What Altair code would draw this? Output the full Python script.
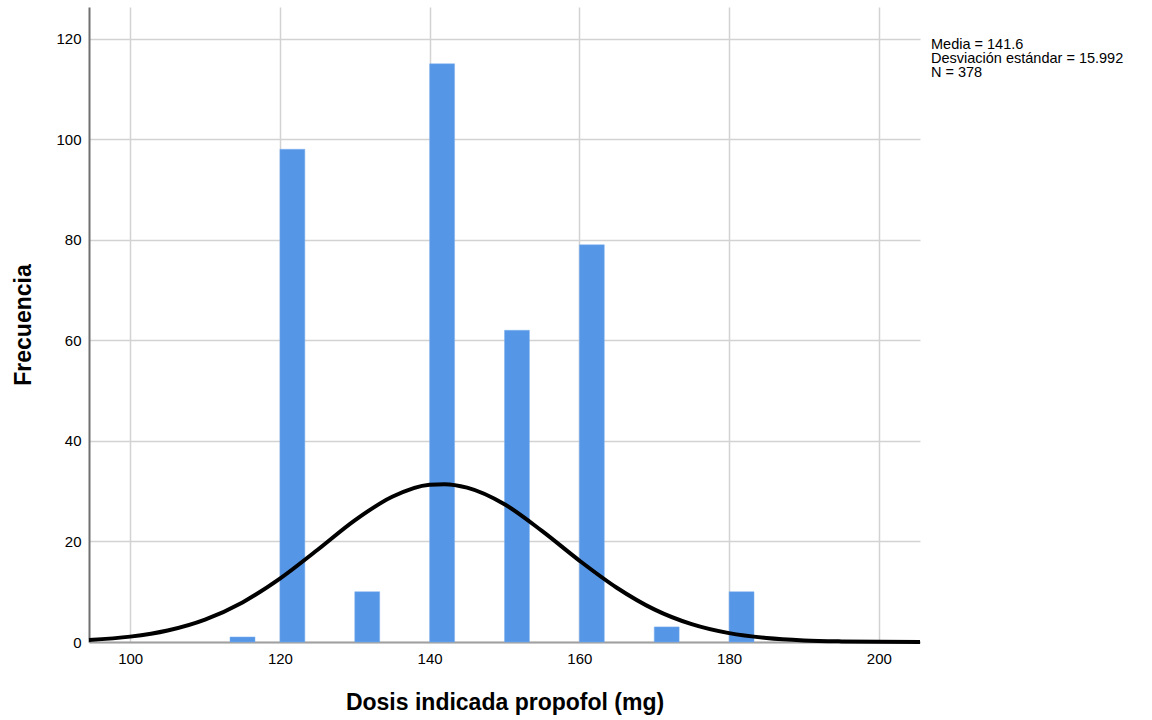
import altair as alt
import pandas as pd

# Histogram bins (start, end) and frequencies
bin_start = [113.33, 120.0, 130.0, 140.0, 150.0, 160.0, 170.0, 180.0]
bin_end = [116.67, 123.33, 133.33, 143.33, 153.33, 163.33, 173.33, 183.33]
freq = [1, 98, 10, 115, 62, 79, 3, 10]

# Normal curve
curve_x = [94.5, 100, 105, 110, 115, 120, 125, 130, 135, 140, 142, 145, 150, 155,
           160, 165, 170, 175, 180, 185, 190, 195, 200, 205.5]
curve_y = [0.42, 1.07, 2.29, 4.46, 7.88, 12.6, 18.3, 24.2, 28.9, 31.3, 31.4, 30.7,
           27.4, 22.1, 16.2, 10.8, 6.49, 3.55, 1.76, 0.79, 0.32, 0.12, 0.04, 0.01]

stats_lines = ["Media = 141.6", "Desviación estándar = 15.992", "N = 378"]
x_title = "Dosis indicada propofol (mg)"
y_title = "Frecuencia"
x_ticks = [100, 120, 140, 160, 180, 200]
y_ticks = [0, 20, 40, 60, 80, 100, 120]

bars_df = pd.DataFrame({"start": bin_start, "end": bin_end, "freq": freq})
curve_df = pd.DataFrame({"x": curve_x, "y": curve_y})

FONT = "Liberation Sans"
xscale = alt.Scale(domain=[94.5, 205.5], nice=False, zero=False)
yscale = alt.Scale(domain=[0, 126.3], nice=False)

bars = alt.Chart(bars_df).mark_bar(color="#5596E6", stroke="#7fb0ee", strokeWidth=0.5).encode(
    x=alt.X("start:Q", scale=xscale,
            axis=alt.Axis(title=x_title, values=x_ticks, grid=True, ticks=False,
                          labelPadding=9, titlePadding=25, domainColor="#a0a0a0",
                          domainWidth=2)),
    x2="end:Q",
    y=alt.Y("freq:Q", scale=yscale,
            axis=alt.Axis(title=y_title, values=y_ticks, grid=True, ticks=False,
                          labelPadding=8, titlePadding=20, domainColor="#707070",
                          domainWidth=2)),
    y2=alt.datum(0),
)

curve = alt.Chart(curve_df).mark_line(color="black", strokeWidth=4,
                                      interpolate="monotone").encode(
    x=alt.X("x:Q", scale=xscale),
    y=alt.Y("y:Q", scale=yscale),
)

stats = alt.Chart(pd.DataFrame({"t": [0]})).mark_text(
    align="left", baseline="top", font=FONT, fontSize=14.5, lineHeight=14,
    color="black"
).encode(
    x=alt.value(842), y=alt.value(31), text=alt.value(stats_lines)
)

chart = alt.layer(bars, curve, stats).properties(
    width=831, height=635,
    autosize=alt.AutoSizeParams(type="none"),
    padding={"left": 89, "top": 7, "right": 232, "bottom": 78},
    background="white",
).configure_view(stroke=None).configure_axis(
    labelFont=FONT, titleFont=FONT, labelFontSize=15, titleFontSize=23,
    titleFontWeight="bold", labelColor="black", titleColor="black",
    gridColor="#d2d2d2", gridWidth=1.5,
)

chart.save("out.html", embed_options={"renderer": "svg", "actions": False})
